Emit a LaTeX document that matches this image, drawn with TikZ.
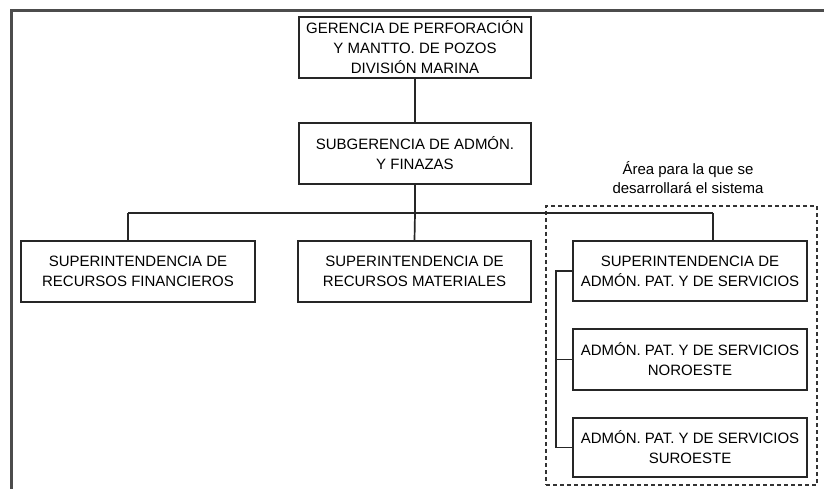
\documentclass[tikz,border=0pt]{standalone}
\usepackage{fontspec}
\setmainfont{Liberation Sans}
\begin{document}
\begin{tikzpicture}[x=1pt,y=-1pt,
  orgbox/.style={draw=black!85, line width=1.8pt, rectangle, inner sep=0pt,
    minimum height=61pt, align=center,
    font=\fontsize{15}{20}\selectfont},
  link/.style={draw=black!85, line width=1.7pt},
  frameline/.style={draw=black!70, line width=3pt},
  areabox/.style={draw=black!80, line width=1.6pt, dash pattern=on 4pt off 3pt,
    rectangle, inner sep=0pt},
  note/.style={align=center, font=\fontsize{15}{19}\selectfont}]
\useasboundingbox[fill=white] (0,0) rectangle (824,489);

% outer frame (top and left edges only)
\draw[frameline] (11,489) -- (11,11) -- (824,11);

% management levels
\node[orgbox, minimum width=232pt] (A) at (415,47.5)
  {GERENCIA DE PERFORACIÓN\\Y MANTTO. DE POZOS\\DIVISIÓN MARINA};
\node[orgbox, minimum width=232pt] (B) at (415,153.5)
  {SUBGERENCIA DE ADMÓN.\\Y FINAZAS};

% superintendencies
\node[orgbox, minimum width=234pt] (C1) at (138,271.5)
  {SUPERINTENDENCIA DE\\RECURSOS FINANCIEROS};
\node[orgbox, minimum width=233pt] (C2) at (414.5,271.5)
  {SUPERINTENDENCIA DE\\RECURSOS MATERIALES};
\node[orgbox, minimum width=234pt, minimum height=60pt] (C3) at (690,271)
  {SUPERINTENDENCIA DE\\ADMÓN. PAT. Y DE SERVICIOS};
\node[orgbox, minimum width=234pt] (D1) at (690,359.5)
  {ADMÓN. PAT. Y DE SERVICIOS\\NOROESTE};
\node[orgbox, minimum width=234pt, minimum height=59pt] (D2) at (690,447.5)
  {ADMÓN. PAT. Y DE SERVICIOS\\SUROESTE};

% highlighted area and its caption
\node[areabox, minimum width=271pt, minimum height=279pt] (area) at (681.5,345.5) {};
\node[note] (cap) at (688,177.5) {Área para la que se\\desarrollará el sistema};

% connectors
\coordinate (busL) at (128,213);
\coordinate (busR) at (713,213);
\coordinate (brk) at (556,0);
\draw[link] (A.south) -- (B.north);
\draw[link] (B.south) -- (B.south |- busL);
\draw[link] (busL) -- (busR);
\draw[link] (busL) -- (busL |- C1.north);
\draw[link] (B.south |- busL) -- (C2.north);
\draw[link] (busR) -- (busR |- C3.north);
\draw[link] (C3.west) -- (C3.west -| brk) -- (D2.west -| brk) -- (D2.west);
\draw[link] (D1.west -| brk) -- (D1.west);
\end{tikzpicture}
\end{document}
